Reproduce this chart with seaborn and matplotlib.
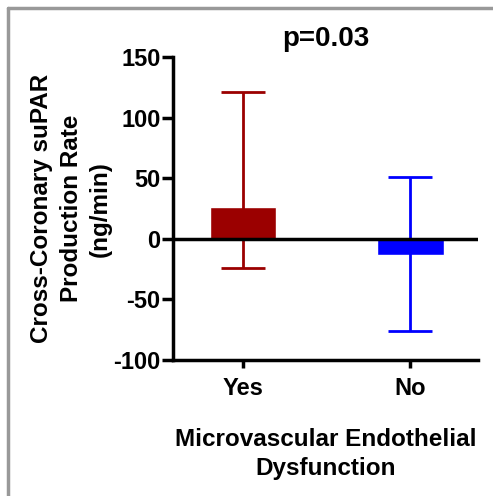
import matplotlib
matplotlib.use("Agg")
import matplotlib.pyplot as plt
from matplotlib.lines import Line2D
import pandas as pd
import numpy as np
import seaborn as sbn

groups = ["Yes", "No"]
means = [26, -13]
upper = [121, 51]
lower = [-24, -76]
colors = ["#9b0000", "#0000ff"]

sbn.set_style("white")
plt.rcParams["font.family"] = ["Liberation Sans", "DejaVu Sans"]
plt.rcParams["font.weight"] = "bold"
plt.rcParams["axes.unicode_minus"] = False
plt.rcParams["text.color"] = "black"
plt.rcParams["axes.labelcolor"] = "black"
plt.rcParams["xtick.color"] = "black"
plt.rcParams["ytick.color"] = "black"

dtf = pd.DataFrame({"group": groups, "rate": means})

fig = plt.figure(figsize=(4.93, 4.96), dpi=100)
ax = fig.add_axes([0.351, 0.274, 0.619, 0.611])

sbn.barplot(data=dtf, x="group", y="rate", hue="group", palette=colors,
            order=groups, width=0.40, errorbar=None, legend=False,
            saturation=1, ax=ax, zorder=2)

for i, g in enumerate(groups):
    m = means[i]
    yerr = np.array([[m - lower[i]], [upper[i] - m]])
    ax.errorbar(i, m, yerr=yerr, color=colors[i], capsize=16, elinewidth=2,
                capthick=2, fmt="none", zorder=3)

ax.axhline(0, color="black", lw=2.5, zorder=4)

ax.set_xlim(-0.419, 1.407)
ax.set_ylim(-100, 150)
ax.set_yticks([-100, -50, 0, 50, 100, 150])

for s in ["top", "right"]:
    ax.spines[s].set_visible(False)
for s in ["left", "bottom"]:
    ax.spines[s].set_linewidth(2.5)
    ax.spines[s].set_color("black")

ax.tick_params(axis="y", length=8, width=2.5, labelsize=17, direction="out", left=True, pad=1)
ax.tick_params(axis="x", length=6, width=2.5, labelsize=17, direction="out", bottom=True, pad=6)
for lab in ax.get_xticklabels() + ax.get_yticklabels():
    lab.set_fontweight("bold")

ax.set_xlabel("Microvascular Endothelial\nDysfunction", fontsize=17.5, fontweight="bold",
              labelpad=20, linespacing=1.35)
ax.set_ylabel("Cross-Coronary suPAR\nProduction Rate\n(ng/min)", fontsize=17.5, fontweight="bold",
              labelpad=1, linespacing=1.35)
ax.set_title("p=0.03", fontsize=20, fontweight="bold", pad=8)

# grey frame top and left
fig.add_artist(Line2D([8/493, 1], [1 - 8/496, 1 - 8/496], color="#999999", lw=2.5))
fig.add_artist(Line2D([8/493, 8/493], [0, 1 - 8/496], color="#999999", lw=2.5))

fig.savefig("out.png", dpi=100)
